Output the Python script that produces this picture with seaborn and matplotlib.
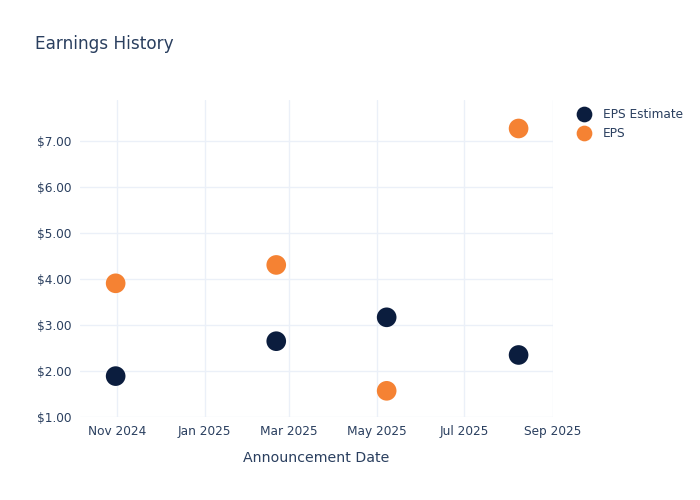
import seaborn as sns
import matplotlib.pyplot as plt
import matplotlib.dates as mdates
import pandas as pd

# Data
dates = ['2024-10-31', '2025-02-20', '2025-05-08', '2025-08-08']
eps_estimate = [1.89, 2.65, 3.17, 2.35]
eps_actual = [3.91, 4.31, 1.57, 7.28]

df = pd.DataFrame({
    'date': pd.to_datetime(dates * 2),
    'value': eps_estimate + eps_actual,
    'series': ['EPS Estimate'] * 4 + ['EPS'] * 4,
})

sns.set_style('white')
plt.rcParams['font.family'] = ['DejaVu Sans']
text_color = '#2a3f5f'
grid_color = '#ebf0f8'

fig = plt.figure(figsize=(7, 5), dpi=100)
ax = fig.add_axes([0.114, 0.166, 0.676, 0.634])

sns.scatterplot(data=df, x='date', y='value', hue='series',
                palette={'EPS Estimate': '#0b1d3e', 'EPS': '#f58233'},
                s=200, linewidth=0, ax=ax, zorder=3)

ax.set_xlim(pd.Timestamp('2024-10-06'), pd.Timestamp('2025-09-01'))
ax.set_ylim(1.0, 7.9)
ax.set_yticks([1, 2, 3, 4, 5, 6, 7])
ax.yaxis.set_major_formatter(plt.FuncFormatter(lambda v, _: f'${v:.2f}'))
ax.xaxis.set_major_locator(mdates.MonthLocator(bymonth=[1, 3, 5, 7, 9, 11]))
ax.xaxis.set_major_formatter(mdates.DateFormatter('%b %Y'))

ax.grid(True, color=grid_color, linewidth=1)
ax.set_axisbelow(True)
for s in ax.spines.values():
    s.set_visible(False)
ax.tick_params(length=0, labelsize=8.7, colors=text_color, pad=6)

ax.set_xlabel('Announcement Date', fontsize=10.2, color=text_color, labelpad=9)
ax.set_ylabel('')

fig.text(0.05, 0.912, 'Earnings History', fontsize=12.2, color=text_color, va='center')

leg = ax.legend(loc='upper left', bbox_to_anchor=(1.03, 0.989), frameon=False,
                fontsize=8.7, labelcolor=text_color, handletextpad=0.55,
                borderaxespad=0, labelspacing=0.5, markerscale=0.8)

fig.savefig('out.png', dpi=100)
